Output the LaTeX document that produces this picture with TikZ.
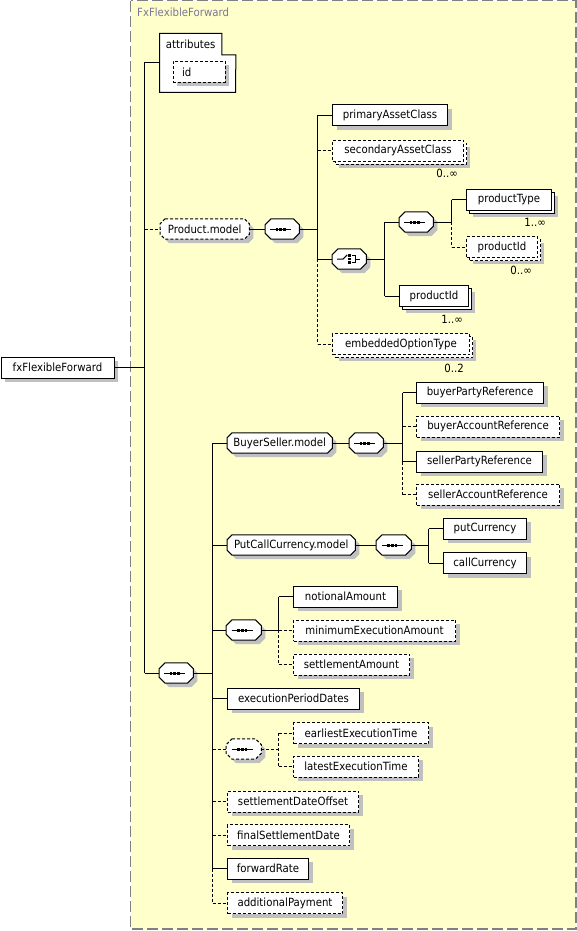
\documentclass[tikz,border=0pt]{standalone}
\usepackage{fontspec}
\setmainfont{DejaVu Sans Condensed}
\usetikzlibrary{shadows}
\pgfdeclarelayer{yellowbg}
\pgfdeclarelayer{octl}
\pgfsetlayers{yellowbg,octl,main}
\definecolor{bgy}{RGB}{255,255,204}
\definecolor{shd}{RGB}{192,192,192}
\definecolor{brd}{RGB}{128,128,128}
\definecolor{ttl}{RGB}{120,120,150}
\tikzset{
  lbl/.style={font=\fontsize{11.3}{13}\selectfont, text=black},
  sh/.style={drop shadow={fill=shd, opacity=1, shadow xshift=4pt, shadow yshift=-4pt}},
  multi/.style={drop shadow={fill=shd, opacity=1, shadow xshift=6.5pt, shadow yshift=-6.5pt},
                copy shadow={draw=black, fill=white, opacity=1, shadow xshift=3pt, shadow yshift=-3pt}},
  elem/.style={lbl, draw=black, fill=white, anchor=west, minimum height=21pt, inner sep=0pt, line width=1pt},
  dbox/.style={dash pattern=on 3pt off 2pt},
  oct/.style={lbl, anchor=west, minimum height=20pt, inner sep=0pt},
  octdraw/.style={draw=black, fill=white, line width=1pt},
  ln/.style={line width=1pt},
  dln/.style={line width=1pt, dash pattern=on 3pt off 2pt},
  mult/.style={lbl, anchor=base east, inner sep=0pt},
}
\newcommand\octshape[3]{%
  \path[#3] ([xshift=#2pt]#1.north west) -- ([xshift=-#2pt]#1.north east) -- ([yshift=-#2pt]#1.north east)
    -- ([yshift=#2pt]#1.south east) -- ([xshift=-#2pt]#1.south east) -- ([xshift=#2pt]#1.south west)
    -- ([yshift=#2pt]#1.south west) -- ([yshift=-#2pt]#1.north west) -- cycle;}
\newcommand\seqglyph[1]{%
  \begin{scope}[shift={(#1.center)}]
    \draw[line width=1pt] (-12,0) -- (9,0);
    \foreach \d in {-5.2,-1.5,2.2} \fill (\d-1.35,-1.5) rectangle (\d+1.35,1.5);
  \end{scope}}
\begin{document}
\begin{tikzpicture}[x=1pt,y=-1pt]
\useasboundingbox (0,0) rectangle (577,931);
\begin{pgfonlayer}{yellowbg}
  \draw[fill=bgy, draw=brd, line width=1.3pt, dash pattern=on 11pt off 4pt] (130.6,0.7) rectangle (576,929);
\end{pgfonlayer}
\node[anchor=base west, inner sep=0pt, font=\fontsize{11.3}{13}\selectfont, text=ttl] (title) at (137,17) {FxFlexibleForward};

% spine coordinates
\coordinate (sR) at (144.5,0);
\coordinate (sP) at (317.5,0);
\coordinate (sC) at (384.5,0);
\coordinate (sT) at (451.5,0);
\coordinate (sM) at (212.5,0);
\coordinate (sB) at (402.5,0);
\coordinate (sPC) at (428.5,0);
\coordinate (s5) at (278.5,0);
\coordinate (s6) at (278.5,0);

% root and attributes
\node[elem, sh, minimum width=113pt] (root) at (0.5,367.5) {fxFlexibleForward};
\node[lbl, anchor=north west, minimum width=62pt, minimum height=21pt, inner sep=0pt] (attr) at (159.5,33.5) {attributes};
\coordinate (attrin) at (159.5,62.5);
\node[elem, sh, dbox, minimum width=52pt, text width=34pt, align=left, inner xsep=9pt] (id) at (172.5,72) {id};

% Product.model group
\node[oct, minimum width=89pt] (pm) at (160,229) {Product.model};
\node[oct, minimum width=34pt] (sq1) at (265,229) {};
\node[elem, sh, minimum width=115pt] (pac) at (332,115.5) {primaryAssetClass};
\node[elem, multi, dbox, minimum width=131pt] (sac) at (332,150.5) {secondaryAssetClass};
\node[oct, minimum width=34pt] (ch) at (332,259) {};
\node[oct, minimum width=34pt] (sq2) at (399,222) {};
\node[elem, multi, minimum width=85pt] (pt) at (466,199.5) {productType};
\node[elem, multi, dbox, minimum width=71pt] (pid1) at (466,247) {productId};
\node[elem, multi, minimum width=69pt] (pid2) at (399,296) {productId};
\node[elem, multi, dbox, minimum width=137pt] (eot) at (332,344) {embeddedOptionType};

\node[mult] (m1) at ([xshift=-6pt,yshift=-16pt]sac.south east) {0..∞};
\node[mult] (m2) at ([xshift=-6pt,yshift=-16pt]pt.south east) {1..∞};
\node[mult] (m3) at ([xshift=-6pt,yshift=-16pt]pid1.south east) {0..∞};
\node[mult] (m4) at ([xshift=-6pt,yshift=-16pt]pid2.south east) {1..∞};
\node[mult] (m5) at ([xshift=-6pt,yshift=-17pt]eot.south east) {0..2};

% main sequence
\node[oct, minimum width=34pt] (sq0) at (159,673) {};
\node[oct, minimum width=105pt] (bsm) at (227,443) {BuyerSeller.model};
\node[oct, minimum width=34pt] (sq3) at (349,443) {};
\node[elem, sh, minimum width=127pt] (bpr) at (416,392.5) {buyerPartyReference};
\node[elem, sh, dbox, minimum width=143pt] (bar) at (416,426.5) {buyerAccountReference};
\node[elem, sh, minimum width=126pt] (spr) at (416,461.5) {sellerPartyReference};
\node[elem, sh, dbox, minimum width=143pt] (sar) at (416,494.5) {sellerAccountReference};

\node[oct, minimum width=128pt] (pcm) at (227,545) {PutCallCurrency.model};
\node[oct, minimum width=35pt] (sq4) at (376,545) {};
\node[elem, sh, minimum width=83pt] (pc) at (443,528.5) {putCurrency};
\node[elem, sh, minimum width=83pt] (cc) at (443,563) {callCurrency};

\node[oct, minimum width=35pt] (sq5) at (226,630) {};
\node[elem, sh, minimum width=104pt] (na) at (293,596.5) {notionalAmount};
\node[elem, sh, dbox, minimum width=162pt] (mea) at (293,630.5) {minimumExecutionAmount};
\node[elem, sh, dbox, minimum width=116pt] (sa) at (293,664.5) {settlementAmount};

\node[elem, sh, minimum width=132pt] (epd) at (227,698.5) {executionPeriodDates};
\node[oct, minimum width=35pt] (sq6) at (226,749) {};
\node[elem, sh, dbox, minimum width=135pt] (eet) at (293,733) {earliestExecutionTime};
\node[elem, sh, dbox, minimum width=125pt] (let) at (293,766.5) {latestExecutionTime};
\node[elem, sh, dbox, minimum width=131pt] (sdo) at (227,801.5) {settlementDateOffset};
\node[elem, sh, dbox, minimum width=122pt] (fsd) at (227,835) {finalSettlementDate};
\node[elem, sh, minimum width=81pt] (fr) at (227,868.5) {forwardRate};
\node[elem, sh, dbox, minimum width=115pt] (ap) at (227,903) {additionalPayment};

% octagon shapes and attributes outline
\begin{pgfonlayer}{octl}
  \draw[line width=1pt, fill=white] (attr.north west) -- (attr.north east) -- (attr.south east)
     -- ([xshift=14pt]attr.south east) -- (235.5,92.5) -- (159.5,92.5) -- cycle;
  \octshape{pm}{5}{octdraw, dbox, sh}
  \octshape{sq1}{6}{octdraw, sh}
  \octshape{ch}{6}{octdraw, sh}
  \octshape{sq2}{6}{octdraw, sh}
  \octshape{sq0}{6}{octdraw, sh}
  \octshape{bsm}{5}{octdraw, sh}
  \octshape{sq3}{6}{octdraw, sh}
  \octshape{pcm}{5}{octdraw, sh}
  \octshape{sq4}{6}{octdraw, sh}
  \octshape{sq5}{6}{octdraw, sh}
  \octshape{sq6}{6}{octdraw, dbox, sh}
\end{pgfonlayer}

% glyphs
\seqglyph{sq1}
\seqglyph{sq2}
\seqglyph{sq0}
\seqglyph{sq3}
\seqglyph{sq4}
\seqglyph{sq5}
\seqglyph{sq6}
\begin{scope}[shift={(ch.center)}]
  \draw[line width=1pt] (-12,0) -- (-6,0) -- (-2,-4);
  \foreach \d in {-3.5,0,3.5} \fill (-0.9,\d-1.3) rectangle (1.9,\d+1.3);
  \draw[line width=1pt] (3,-3.5) -- (6,-3.5) -- (6,3.5) -- (3,3.5);
  \draw[line width=1pt] (6,0) -- (11,0);
\end{scope}

% connectors: root
\draw[ln] (root.east) -- (root.east -| sR);
\draw[ln] (sR |- attrin) -- (sR |- sq0.west);
\draw[ln] (sR |- attrin) -- (attrin);
\draw[dln] (sR |- pm.west) -- (pm.west);
\draw[ln] (sR |- sq0.west) -- (sq0.west);

% Product.model
\draw[ln] (pm.east) -- (sq1.west);
\draw[ln] (sq1.east) -- (sq1.east -| sP);
\draw[ln] (sP |- pac.west) -- (sP |- ch.west);
\draw[dln] (sP |- ch.west) -- (sP |- eot.west);
\draw[ln] (sP |- pac.west) -- (pac.west);
\draw[dln] (sP |- sac.west) -- (sac.west);
\draw[ln] (sP |- ch.west) -- (ch.west);
\draw[dln] (sP |- eot.west) -- (eot.west);

\draw[ln] (ch.east) -- (ch.east -| sC);
\draw[ln] (sC |- sq2.west) -- (sC |- pid2.west);
\draw[ln] (sC |- sq2.west) -- (sq2.west);
\draw[ln] (sC |- pid2.west) -- (pid2.west);

\draw[ln] (sq2.east) -- (sq2.east -| sT);
\draw[ln] (sT |- pt.west) -- (sT |- sq2.east);
\draw[dln] (sT |- sq2.east) -- (sT |- pid1.west);
\draw[ln] (sT |- pt.west) -- (pt.west);
\draw[dln] (sT |- pid1.west) -- (pid1.west);

% main sequence
\draw[ln] (sq0.east) -- (sq0.east -| sM);
\draw[ln] (sM |- bsm.west) -- (sM |- fr.west);
\draw[dln] (sM |- fr.west) -- (sM |- ap.west);
\draw[ln] (sM |- bsm.west) -- (bsm.west);
\draw[ln] (sM |- pcm.west) -- (pcm.west);
\draw[ln] (sM |- sq5.west) -- (sq5.west);
\draw[ln] (sM |- epd.west) -- (epd.west);
\draw[dln] (sM |- sq6.west) -- (sq6.west);
\draw[dln] (sM |- sdo.west) -- (sdo.west);
\draw[dln] (sM |- fsd.west) -- (fsd.west);
\draw[ln] (sM |- fr.west) -- (fr.west);
\draw[dln] (sM |- ap.west) -- (ap.west);

% BuyerSeller
\draw[ln] (bsm.east) -- (sq3.west);
\draw[ln] (sq3.east) -- (sq3.east -| sB);
\draw[ln] (sB |- bpr.west) -- (sB |- spr.west);
\draw[dln] (sB |- spr.west) -- (sB |- sar.west);
\draw[ln] (sB |- bpr.west) -- (bpr.west);
\draw[dln] (sB |- bar.west) -- (bar.west);
\draw[ln] (sB |- spr.west) -- (spr.west);
\draw[dln] (sB |- sar.west) -- (sar.west);

% PutCallCurrency
\draw[ln] (pcm.east) -- (sq4.west);
\draw[ln] (sq4.east) -- (sq4.east -| sPC);
\draw[ln] (sPC |- pc.west) -- (sPC |- cc.west);
\draw[ln] (sPC |- pc.west) -- (pc.west);
\draw[ln] (sPC |- cc.west) -- (cc.west);

% amounts
\draw[ln] (sq5.east) -- (sq5.east -| s5);
\draw[ln] (s5 |- na.west) -- (s5 |- sq5.east);
\draw[dln] (s5 |- sq5.east) -- (s5 |- sa.west);
\draw[ln] (s5 |- na.west) -- (na.west);
\draw[dln] (s5 |- mea.west) -- (mea.west);
\draw[dln] (s5 |- sa.west) -- (sa.west);

% execution times
\draw[dln] (sq6.east) -- (sq6.east -| s6);
\draw[dln] (s6 |- eet.west) -- (s6 |- let.west);
\draw[dln] (s6 |- eet.west) -- (eet.west);
\draw[dln] (s6 |- let.west) -- (let.west);
\end{tikzpicture}
\end{document}
